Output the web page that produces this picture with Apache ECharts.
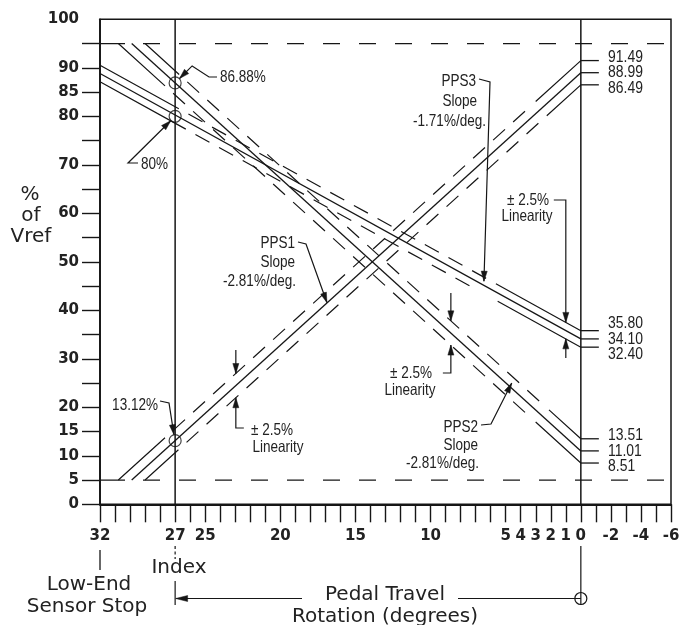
<!DOCTYPE html>
<html>
<head>
<meta charset="utf-8">
<script src="https://cdn.jsdelivr.net/npm/echarts@6/dist/echarts.min.js"></script>
<style>
  html, body { margin: 0; padding: 0; background: #fff; }
  #chart { width: 685px; height: 625px; }
</style>
</head>
<body>
<div id="chart"></div>
<script>
// ---- axis ticks and labels (degrees of pedal travel, % of Vref) ----
const xTickLabels = [32, 27, 25, 20, 15, 10, 5, 4, 3, 2, 1, 0, -2, -4, -6];
const yTickValues = [0, 5, 10, 15, 20, 25, 30, 35, 40, 45, 50, 55, 60, 65, 70, 75, 80, 85, 90, 95];
const yTickLabels = [0, 5, 10, 15, 20, 30, 40, 50, 60, 70, 80, 85, 90, 100];

// ---- reference positions ----
const indexDeg = 27;          // index position
const restDeg = 0;            // pedal at rest
const limitLow = 5;           // lower output limit, % Vref
const limitHigh = 95;         // upper output limit, % Vref

// ---- sensor outputs: [degrees, % Vref] end points (upper / nominal / lower) ----
const pps1Upper   = [[30.78, 5], [0, 91.49]];
const pps1Nominal = [[29.89, 5], [0, 88.99]];
const pps1Lower   = [[29.00, 5], [0, 86.49]];

const pps2Upper   = [[29.00, 95], [0, 13.51]];
const pps2Nominal = [[29.89, 95], [0, 11.01]];
const pps2Lower   = [[30.78, 95], [0, 8.51]];

const pps3Upper   = [[32, 90.52], [0, 35.80]];
const pps3Nominal = [[32, 88.82], [0, 34.10]];
const pps3Lower   = [[32, 87.12], [0, 32.40]];

// outputs at the index position
const indexOutputs = [86.88, 80, 13.12];

const INK = '#161616';
const TXT = '#222222';
const NARROW = '"Liberation Sans", Arial, sans-serif';
const WIDE = '"DejaVu Sans", Verdana, sans-serif';

const chart = echarts.init(document.getElementById('chart'), null, { renderer: 'canvas' });

function lineSeries(id, data, width) {
  return {
    id, type: 'line', data, symbol: 'none', silent: true, animation: false, z: 3,
    lineStyle: { color: INK, width: width, type: 'solid', cap: 'butt' }
  };
}

const outerLines = [
  { id: 'pps1U', data: pps1Upper, start: 63, end: 61 },
  { id: 'pps1L', data: pps1Lower, start: 45, end: 46 },
  { id: 'pps2U', data: pps2Upper, start: 46, end: 43 },
  { id: 'pps2L', data: pps2Lower, start: 63, end: 61 },
  { id: 'pps3U', data: pps3Upper, start: 90, end: 97 },
  { id: 'pps3L', data: pps3Lower, start: 98, end: 95 }
];

const series = [
  lineSeries('index', [[indexDeg, 0], [indexDeg, 100]], 1.5),
  lineSeries('rest', [[restDeg, 0], [restDeg, 100]], 1.5),
  lineSeries('lim5', [[32, limitLow], [-6, limitLow]], 1.3),
  lineSeries('lim95', [[32, limitHigh], [-6, limitHigh]], 1.3),
  lineSeries('pps1N', pps1Nominal, 1.3),
  lineSeries('pps2N', pps2Nominal, 1.3),
  lineSeries('pps3N', pps3Nominal, 1.3)
].concat(outerLines.map(o => lineSeries(o.id, o.data, 1.2)));

series.push({
  id: 'indexMarks', type: 'scatter', silent: true, animation: false, z: 6,
  data: indexOutputs.map(v => [indexDeg, v]),
  symbol: 'circle', symbolSize: 12,
  itemStyle: { color: 'rgba(0,0,0,0)', borderColor: INK, borderWidth: 1.2 }
});

chart.setOption({
  animation: false,
  grid: {
    left: 100, right: 14, top: 19.3, bottom: 120.7,
    show: true, borderColor: INK, borderWidth: 1.5, backgroundColor: 'transparent',
    containLabel: false, outerBoundsMode: 'none'
  },
  xAxis: {
    type: 'value', min: -6, max: 32, interval: 1, inverse: true,
    axisLine: { show: true, onZero: false, lineStyle: { color: INK, width: 1.8 } },
    axisTick: { show: true, length: 18, lineStyle: { color: INK, width: 1.4 } },
    axisLabel: {
      customValues: xTickLabels, margin: 24, showMinLabel: true, showMaxLabel: true,
      fontFamily: WIDE, fontWeight: 'bold', fontSize: 15, color: TXT
    },
    splitLine: { show: false }
  },
  yAxis: {
    type: 'value', min: 0, max: 100, interval: 5,
    axisLine: { show: true, onZero: false, lineStyle: { color: INK, width: 1.8 } },
    axisTick: { show: true, length: 18, customValues: yTickValues, lineStyle: { color: INK, width: 1.4 } },
    axisLabel: {
      customValues: yTickLabels, margin: 21, showMinLabel: true, showMaxLabel: true,
      fontFamily: WIDE, fontWeight: 'bold', fontSize: 15, color: TXT
    },
    splitLine: { show: false }
  },
  series: series
});

// ---- helpers working in pixel space ----
const P = (deg, v) => chart.convertToPixel({ gridIndex: 0 }, [deg, v]);

// solid ends with a dashed middle run
function endSolidDash(len, start, end, dash, gap) {
  const arr = [start];
  let pos = start;
  while (pos + gap + dash + gap < len - end) { arr.push(gap, dash); pos += gap + dash; }
  arr.push(Math.max(1, len - end - pos), end + 20);
  return arr;
}
// limit lines: long first dash, then regular dashes
function limitDash(len) {
  const arr = [25, 18];
  let pos = 43;
  while (pos < len + 40) { arr.push(17, 19); pos += 36; }
  return arr;
}

const dashUpdates = outerLines.map(o => {
  const a = P(o.data[0][0], o.data[0][1]);
  const b = P(o.data[1][0], o.data[1][1]);
  const len = Math.hypot(b[0] - a[0], b[1] - a[1]);
  return { id: o.id, lineStyle: { type: endSolidDash(len, o.start, o.end, 16, 11) } };
});
const limLen = P(-6, 0)[0] - P(32, 0)[0];
dashUpdates.push({ id: 'lim5', lineStyle: { type: limitDash(limLen) } });
dashUpdates.push({ id: 'lim95', lineStyle: { type: limitDash(limLen) } });

// ---- annotation graphics ----
const g = [];
function poly(points, w) {
  g.push({ type: 'polyline', silent: true, z: 10, shape: { points }, style: { stroke: INK, lineWidth: w || 1.2, fill: null } });
}
function arrowHead(tip, from, len, half) {
  len = len || 10; half = half || 3;
  const dx = tip[0] - from[0], dy = tip[1] - from[1];
  const L = Math.hypot(dx, dy), ux = dx / L, uy = dy / L;
  const bx = tip[0] - ux * len, by = tip[1] - uy * len;
  g.push({
    type: 'polygon', silent: true, z: 11,
    shape: { points: [tip, [bx - uy * half, by + ux * half], [bx + uy * half, by - ux * half]] },
    style: { fill: INK, stroke: INK, lineWidth: 0.5 }
  });
}
function leader(points, tip) {
  poly(points.concat([tip]));
  arrowHead(tip, points[points.length - 1]);
}
function text(x, y, str, opt) {
  opt = opt || {};
  const align = opt.align || 'center';
  g.push({
    type: 'text', silent: true, z: 12, x: x, y: y,
    scaleX: opt.scale == null ? 0.82 : opt.scale,
    style: {
      text: str, x: 0, y: 0,
      font: (opt.weight || 'normal') + ' ' + (opt.size || 16.5) + 'px ' + (opt.family || NARROW),
      fill: TXT, align: align, verticalAlign: 'middle',
      textAlign: align, textVerticalAlign: 'middle'
    }
  });
}
function circle(cx, cy, r) {
  g.push({ type: 'circle', silent: true, z: 10, shape: { cx, cy, r }, style: { fill: '#fff', stroke: INK, lineWidth: 1.2 } });
}

// index readings
const c1 = P(indexDeg, indexOutputs[0]);
const c2 = P(indexDeg, indexOutputs[1]);
const c3 = P(indexDeg, indexOutputs[2]);
text(220, 77, indexOutputs[0].toFixed(2) + '%', { align: 'left' });
leader([[217, 77], [209, 77], [c1[0] + 17, c1[1] - 17]], [c1[0] + 4.4, c1[1] - 4.4]);
text(141, 164, indexOutputs[1] + '%', { align: 'left' });
leader([[138, 163], [128, 163]], [c2[0] - 4.4, c2[1] + 4.4]);
text(158, 405, indexOutputs[2].toFixed(2) + '%', { align: 'right' });
leader([[160, 401], [169, 403]], [c3[0] - 1.2, c3[1] - 6]);

// slope call-outs
text(295, 243, 'PPS1', { align: 'right' });
text(295, 262, 'Slope', { align: 'right' });
text(296, 281, '-2.81%/deg.', { align: 'right' });
leader([[298, 242], [306, 244]], P(16.9, 41.6));

text(478, 427, 'PPS2', { align: 'right' });
text(478, 445, 'Slope', { align: 'right' });
text(479, 463, '-2.81%/deg.', { align: 'right' });
leader([[481, 425], [491, 424]], P(4.6, 25.0));

text(476, 81, 'PPS3', { align: 'right' });
text(477, 101, 'Slope', { align: 'right' });
text(486, 121, '-1.71%/deg.', { align: 'right' });
leader([[479, 79], [490, 82]], P(6.45, 46.0));

// linearity call-outs
function linearity(deg, upperVal, lowerVal, topFrom, bottomFrom, bend) {
  const t = P(deg, upperVal), b = P(deg, lowerVal);
  return { t, b };
}
// PPS1
{
  const t = P(22.96, 26.97), b = P(22.96, 21.97);
  leader([[t[0], 350]], t);
  leader([[t[0] + 8, 428], [t[0], 428]], b);
  text(272, 430, '\u00b1 2.5%');
  text(278, 447, 'Linearity');
}
// PPS2
{
  const t = P(8.65, 37.82), b = P(8.65, 32.82);
  leader([[t[0], 293]], t);
  leader([[t[0] - 8, 373], [t[0], 373]], b);
  text(411, 373, '\u00b1 2.5%');
  text(410, 390, 'Linearity');
}
// PPS3
{
  const t = P(1.0, 37.51), b = P(1.0, 34.11);
  leader([[t[0] - 12, 200], [t[0], 200]], t);
  leader([[t[0], 358]], b);
  text(528, 200, '\u00b1 2.5%');
  text(527, 216, 'Linearity');
}

// end values at 0 degrees
[[pps1Upper, pps1Nominal, pps1Lower], [pps2Upper, pps2Nominal, pps2Lower], [pps3Upper, pps3Nominal, pps3Lower]]
  .forEach(group => {
    const mid = P(0, group[1][1][1]);
    group.forEach((ln, k) => {
      const v = ln[1][1];
      const p = P(0, v);
      poly([[p[0], p[1]], [p[0] + 18, p[1]]], 1.3);
      text(608, mid[1] + (k - 1) * 15.5, v.toFixed(2), { align: 'left', size: 17 });
    });
  });

// y axis title
text(30, 195, '%', { size: 20, family: WIDE, scale: 1 });
text(31, 216, 'of', { size: 20, family: WIDE, scale: 1 });
text(31, 237, 'Vref', { size: 20, family: WIDE, scale: 1 });

// low-end stop
const x32 = P(32, 0)[0];
poly([[x32, 550], [x32, 570]], 1.3);
text(89, 585, 'Low-End', { size: 20, family: WIDE, scale: 1 });
text(87, 607, 'Sensor Stop', { size: 20, family: WIDE, scale: 1 });

// index marker
const xIdx = P(indexDeg, 0)[0];
g.push({ type: 'line', silent: true, z: 10, shape: { x1: xIdx, y1: 546, x2: xIdx, y2: 559 },
  style: { stroke: INK, lineWidth: 1.2, lineDash: [3, 2.5] } });
text(179, 568, 'Index', { size: 20, family: WIDE, scale: 1 });
poly([[xIdx, 581], [xIdx, 605]], 1.2);

// pedal travel dimension
const xRest = P(restDeg, 0)[0];
const yDim = 598.5;
poly([[xRest, 546], [xRest, 605]], 1.2);
poly([[xIdx + 1, yDim], [302, yDim]], 1.2);
poly([[458, yDim], [xRest, yDim]], 1.2);
arrowHead([xIdx + 0.5, yDim], [xIdx + 20, yDim], 12, 3);
g.push({ type: 'circle', silent: true, z: 12, shape: { cx: xRest, cy: yDim, r: 6 },
  style: { fill: 'rgba(0,0,0,0)', stroke: INK, lineWidth: 1.2 } });
text(385, 595, 'Pedal Travel', { size: 20, family: WIDE, scale: 1 });
text(385, 617, 'Rotation (degrees)', { size: 20, family: WIDE, scale: 1 });

chart.setOption({ series: dashUpdates, graphic: { elements: g } });
</script>
</body>
</html>
